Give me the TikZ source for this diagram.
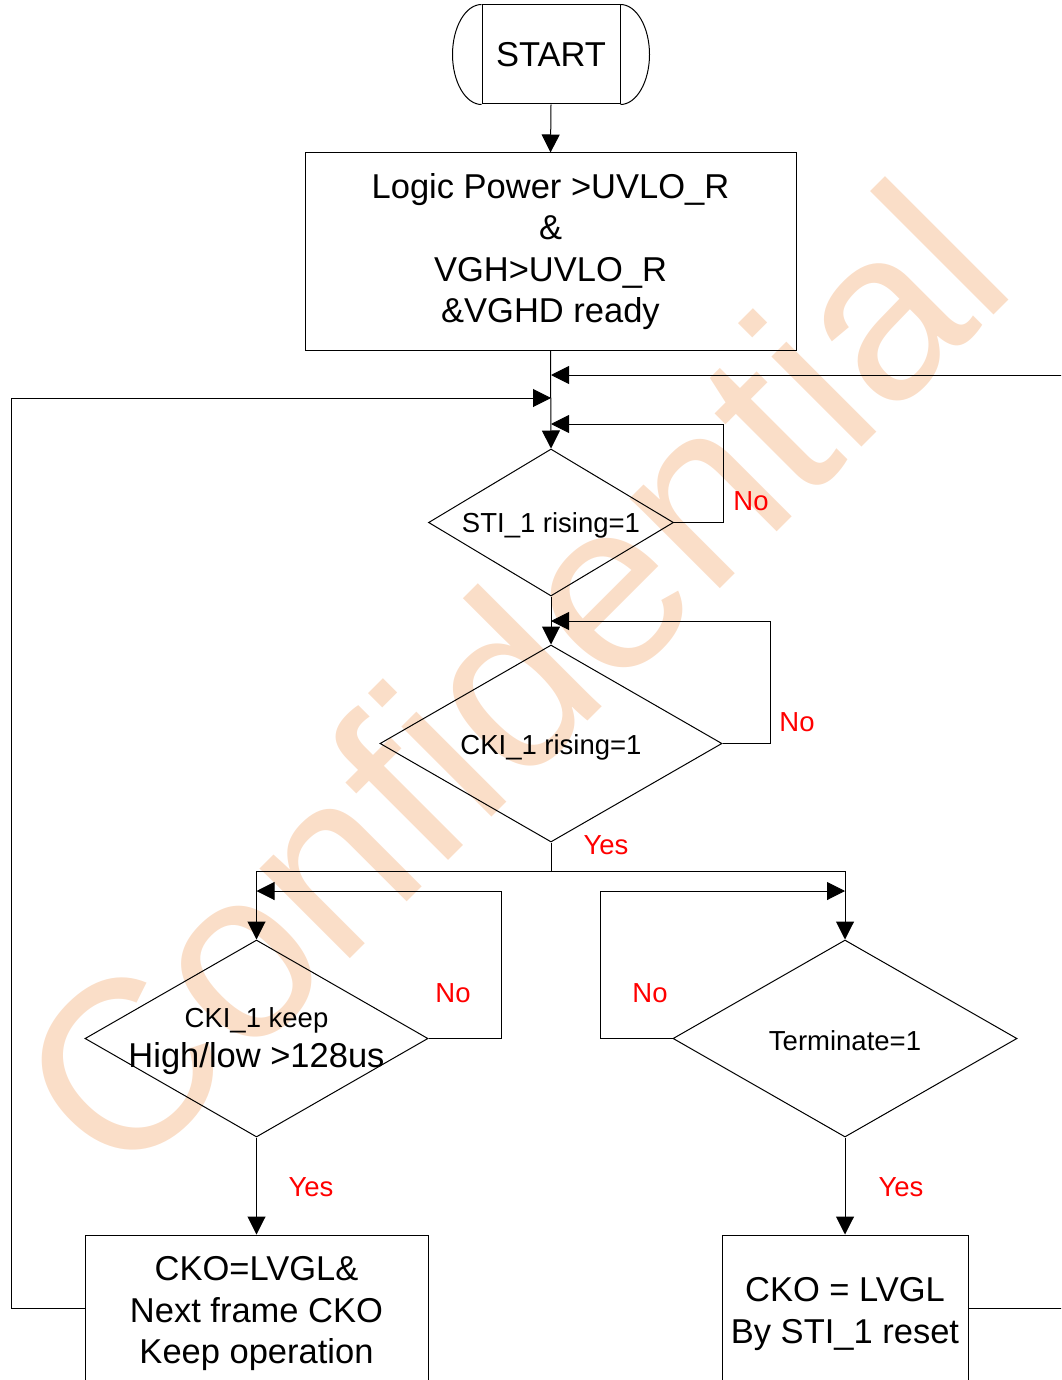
\documentclass[tikz,border=0pt]{standalone}
\usepackage{fontspec}
\setmainfont{Liberation Sans}
\usetikzlibrary{shapes.geometric,arrows.meta,calc}
\definecolor{wm}{RGB}{250,222,200}
\begin{document}
\begin{tikzpicture}[x=1pt,y=-1pt,
  line width=1pt,
  arr/.style={-{Triangle[length=18pt,width=18pt]}},
  bigtxt/.style={font=\fontsize{34.5}{41.5}\selectfont, align=center},
  smalltxt/.style={font=\fontsize{27.5}{33}\selectfont, inner sep=0pt, anchor=base},
  bigline/.style={font=\fontsize{34.5}{41.5}\selectfont, inner sep=0pt, anchor=base},
  boxstyle/.style={draw, rectangle, inner sep=0pt, bigtxt},
  dia/.style={draw, diamond, inner sep=0pt},
  lbl/.style={text=red, font=\fontsize{27.5}{33}\selectfont, inner sep=0pt, anchor=base}
]
\clip (0,0) rectangle (1061,1380);
% watermark
\node[anchor=base, rotate=45, text=wm, inner sep=0pt,
      font=\fontsize{241}{241}\selectfont] (wmark) at (571,738) {Confidential};

% START terminator
\node[draw, rectangle, minimum width=138pt, minimum height=99pt, inner sep=0pt, bigtxt] (start) at (551,54.5) {START};
\draw (start.north west) .. controls +(-16,0) and +(0,-27.3) .. ($(start.west)+(-29,0)$)
      .. controls +(0,27.3) and +(-16,0) .. (start.south west);
\draw (start.north east) .. controls +(16,0) and +(0,-27.3) .. ($(start.east)+(29,0)$)
      .. controls +(0,27.3) and +(16,0) .. (start.south east);

% power box
\node[boxstyle, minimum width=491pt, minimum height=197pt] (power) at (550.5,251.5)
  {Logic Power >UVLO\_R\\\&\\VGH>UVLO\_R\\\&VGHD ready};

% diamonds
\node[dia, minimum width=245pt, minimum height=147pt] (sti) at (551,522.5) {};
\node[smalltxt] (stitxt) at (551,532) {STI\_1 rising=1};

\node[dia, minimum width=342pt, minimum height=197pt] (cki) at (551,743.5) {};
\node[smalltxt] (ckitxt) at (551,754) {CKI\_1 rising=1};

\node[dia, minimum width=343pt, minimum height=197pt] (keep) at (256.5,1038.5) {};
\node[smalltxt] (keeptxta) at (256.5,1027) {CKI\_1 keep};
\node[bigline] (keeptxtb) at (256.5,1067) {High/low >128us};

\node[dia, minimum width=344pt, minimum height=197pt] (term) at (845,1038.5) {};
\node[smalltxt] (termtxt) at (845,1050) {Terminate=1};

% bottom boxes
\node[boxstyle, minimum width=343pt, minimum height=158pt] (nextbox) at (256.5,1314)
  {CKO=LVGL\&\\Next frame CKO\\Keep operation};
\node[boxstyle, minimum width=246pt, minimum height=158pt] (resetbox) at (845,1314)
  {CKO = LVGL\\By STI\_1 reset};

% junction coordinates
\coordinate (j1) at (551,375);
\coordinate (j2) at (551,398);
\coordinate (j3) at (551,424);
\coordinate (j4) at (551,621);
\coordinate (split) at (551,871);
\coordinate (j6) at (256.5,891);
\coordinate (j7) at (845,891);

% connectors
\draw[arr] (start.south) -- (power.north);
\draw[arr] (power.south) -- (sti.north);
\draw[arr] ([yshift=6pt]resetbox.east) -- ++(120,0) |- (j1);
\draw[arr] ([yshift=6pt]nextbox.west) -| (11,398) -- (j2);
\draw[arr] (sti.east) -| (723,424) -- (j3);
\draw[arr] (sti.south) -- (cki.north);
\draw[arr] (cki.east) -| (770,621) -- (j4);
\draw (cki.south) -- (split);
\draw[arr] (split) -| (keep.north);
\draw[arr] (split) -| (term.north);
\draw[arr] (keep.east) -| (501,891) -- (j6);
\draw[arr] (term.west) -| (600,891) -- (j7);
\draw[arr] (keep.south) -- (nextbox.north);
\draw[arr] (term.south) -- (resetbox.north);

% labels
\node[lbl] (no1) at (751,510) {No};
\node[lbl] (no2) at (797,731) {No};
\node[lbl] (yes1) at (606,854) {Yes};
\node[lbl] (no3) at (453,1002) {No};
\node[lbl] (no4) at (650,1002) {No};
\node[lbl] (yes2) at (311,1196) {Yes};
\node[lbl] (yes3) at (901,1196) {Yes};
\end{tikzpicture}
\end{document}
